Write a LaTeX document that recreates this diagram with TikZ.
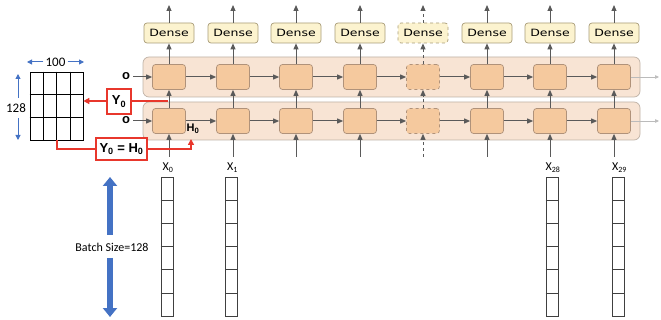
\documentclass[tikz,border=0pt]{standalone}
\usepackage{fontspec}
\usepackage{graphicx}
\setmainfont{Liberation Sans}
\newfontfamily\calib{Carlito}
\newfontfamily\djs{DejaVu Sans}
\usetikzlibrary{arrows.meta,calc}
\definecolor{cellfill}{HTML}{F5C99E}
\definecolor{cellborder}{HTML}{B0927A}
\definecolor{layerfill}{HTML}{F8E4D4}
\definecolor{layerborder}{HTML}{BFB2A6}
\definecolor{densefill}{HTML}{FCF3CF}
\definecolor{denseborder}{HTML}{A89C78}
\definecolor{arrowgray}{HTML}{5A5A5A}
\definecolor{faintgray}{HTML}{BBBBBB}
\definecolor{redc}{HTML}{E8372C}
\definecolor{bluec}{HTML}{4472C4}
\begin{document}
\begin{tikzpicture}[x=1pt,y=-1pt,
  cell/.style={draw=cellborder, fill=cellfill, rounded corners=3pt, minimum width=33pt, minimum height=25pt, inner sep=0pt, line width=0.7pt},
  layerbox/.style={draw=layerborder, fill=layerfill, rounded corners=6pt, minimum width=497pt, inner sep=0pt, line width=0.7pt},
  densebox/.style={draw=denseborder, fill=densefill, rounded corners=3pt, minimum width=50pt, minimum height=20pt, inner sep=0pt, line width=0.7pt, font=\djs\fontsize{10}{10}\selectfont},
  flow/.style={draw=arrowgray, line width=1pt, -{Triangle[length=6pt,width=5pt]}},
  faint/.style={draw=faintgray, line width=0.6pt, -{Triangle[length=4pt,width=3.5pt]}},
  redbox/.style={draw=redc, line width=1.5pt, fill=white, inner sep=0pt, font=\bfseries\fontsize{13}{13}\selectfont},
  redline/.style={draw=redc, line width=1.5pt},
  redarrow/.style={redline, -{Triangle[length=6pt,width=6pt]}},
  bluethin/.style={draw=bluec, line width=1pt, -{Triangle[length=5pt,width=5pt]}},
  bluethick/.style={draw=bluec, line width=5.5pt, -{Triangle[length=9pt,width=14pt]}},
  veccol/.style={draw=black!75, line width=0.6pt, minimum width=12pt, minimum height=139pt, inner sep=0pt},
  lbl/.style={font=\calib\fontsize{12}{12}\selectfont, inner sep=0pt}
]
\useasboundingbox (0,0) rectangle (661,320);

% layer boxes
\node[layerbox, minimum height=40pt] (L2) at (391.5,77) {};
\node[layerbox, minimum height=38pt] (L1) at (391.5,121) {};

% columns
\foreach \x/\s [count=\i] in {169/solid,233/solid,296/solid,360/solid,423/dashed,487/solid,550/solid,614/solid}{
  \node[cell,\s] (a\i) at (\x,121) {};
  \node[cell,\s] (b\i) at (\x,77) {};
  \node[densebox,\s] (d\i) at (\x,33) {\scalebox{1.25}[1]{Dense}};
  \coordinate (in\i) at (\x,157);
  \coordinate (out\i) at (\x,5);
  \draw[flow,\s] (in\i) -- (a\i.south);
  \draw[flow,\s] (a\i.north) -- (b\i.south);
  \draw[flow,\s] (b\i.north) -- (d\i.south);
  \draw[flow,\s] (d\i.north) -- (out\i);
}
\foreach \i [evaluate=\i as \j using int(\i+1)] in {1,...,7}{
  \draw[flow] (a\i.east) -- (a\j.west);
  \draw[flow] (b\i.east) -- (b\j.west);
}
\coordinate (e1) at (659,121);
\coordinate (e2) at (659,77);
\draw[faint] (a8.east) -- (e1);
\draw[faint] (b8.east) -- (e2);

% o inputs
\node[font=\bfseries\fontsize{13}{13}\selectfont, inner sep=0pt] (o2) at (126,76) {o};
\node[font=\bfseries\fontsize{13}{13}\selectfont, inner sep=0pt] (o1) at (126,120) {o};
\draw[flow] (o2.east) ++(3,1) -- (b1.west);
\draw[flow] (o1.east) ++(3,1) -- (a1.west);

% matrix
\node[draw=black, line width=0.7pt, minimum width=53pt, minimum height=68pt, inner sep=0pt] (M) at (56.5,106) {};
\foreach \k in {1,2,3}{
  \draw[black, line width=0.7pt] ($(M.north west)!\k/4!(M.north east)$) -- ($(M.south west)!\k/4!(M.south east)$);
}
\foreach \k in {1,2}{
  \draw[black, line width=0.7pt] ($(M.north west)!\k/3!(M.south west)$) -- ($(M.north east)!\k/3!(M.south east)$);
}
\node[lbl, font=\calib\fontsize{13}{13}\selectfont] (n100) at (55.5,62) {100};
\coordinate (h1) at (27,62);
\coordinate (h2) at (84,62);
\draw[bluethin] (n100.west) ++(-2,0) -- (h1);
\draw[bluethin] (n100.east) ++(2,0) -- (h2);
\node[lbl, font=\calib\fontsize{13}{13}\selectfont] (n128) at (16,108) {128};
\coordinate (v1) at (18,74);
\coordinate (v2) at (18,140);
\draw[bluethin] (18,98) -- (v1);
\draw[bluethin] (18,118) -- (v2);

% red Y0
\node[redbox, minimum width=24pt, minimum height=25pt] (Y0) at (119,101.5) {Y\textsubscript{0}};
\coordinate (r1) at (168,101);
\draw[redline] (r1) -- (Y0.east |- r1);
\draw[redarrow] (Y0.west |- r1) -- (M.east |- r1);

% red Y0=H0
\node[redbox, minimum width=51pt, minimum height=22pt] (YH) at (121.5,149) {Y\textsubscript{0} = H\textsubscript{0}};
\coordinate (hh) at (191,139);
\draw[redline] (57,140) |- (YH.west);
\draw[redarrow] (YH.east) -| (hh);
\node[font=\bfseries\fontsize{11}{11}\selectfont, inner sep=0pt] (H0) at (193,129) {H\textsubscript{0}};

% input vectors
\foreach \x/\t [count=\i] in {167/0,231.5/1,552/28,618.5/29}{
  \node[veccol] (v\i) at (\x,246.5) {};
  \foreach \k in {1,...,5}{
    \draw[black!75, line width=0.6pt] ($(v\i.north west)!\k/6!(v\i.south west)$) -- ($(v\i.north east)!\k/6!(v\i.south east)$);
  }
  \node[lbl] (xl\i) at (\x+1,168) {X\textsubscript{\t}};
}

% batch size
\node[lbl] (bs) at (112,247) {Batch Size=128};
\coordinate (bt) at (110,177);
\coordinate (bb) at (110,317);
\draw[bluethick] (110,235) -- (bt);
\draw[bluethick] (110,258) -- (bb);
\end{tikzpicture}
\end{document}
